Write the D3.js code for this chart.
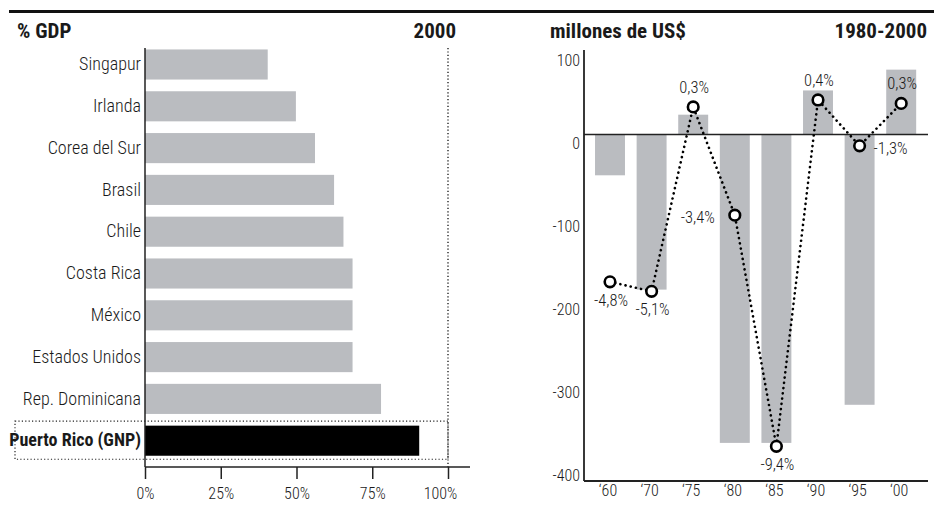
<!DOCTYPE html>
<html>
<head>
<meta charset="utf-8">
<script src="https://cdn.jsdelivr.net/npm/d3@7"></script>
<style>
  body { margin: 0; background: #fff; }
  svg text { font-family: "Roboto Condensed", "Liberation Sans Narrow", sans-serif; fill: #1a1a1a; }
</style>
</head>
<body>
<script>
// panel izquierdo: % del PIB, 2000
var countries = ["Singapur","Irlanda","Corea del Sur","Brasil","Chile","Costa Rica","México","Estados Unidos","Rep. Dominicana","Puerto Rico (GNP)"]
var gdpShare = [40.5, 49.8, 56.1, 62.4, 65.5, 68.5, 68.5, 68.5, 77.9, 90.5]
var pctTicks = [0, 25, 50, 75, 100]

// panel derecho: millones de US$, 1960-2000
var periods = ["\u201860","\u201870","\u201875","\u201880","\u201885","\u201890","\u201895","\u201800"]
var flows = [-47, -179, 23, -356, -356, 51, -312, 75]
var ratePoints = [-170, -181, 32, -93, -360, 40, -13, 36]
var rateLabels = ["-4,8%","-5,1%","0,3%","-3,4%","-9,4%","0,4%","-1,3%","0,3%"]
var flowTicks = [100, 0, -100, -200, -300, -400]

var labelSide = ["below","below","above","left","below","above","right","above"]

var W = 934, H = 520
var barGrey = "#babcc0"

var svg = d3.select("body").append("svg")
    .attr("width", W)
    .attr("height", H)

// regla superior
svg.append("rect")
    .attr("x", 9).attr("y", 10)
    .attr("width", W - 9).attr("height", 3)
    .attr("fill", "#111")

// ---------- panel izquierdo ----------
var x1 = d3.scaleLinear().domain([0, 100]).range([145, 448])
var y1 = d3.scaleBand().domain(countries).range([43.6, 461.6]).paddingInner(0.28).paddingOuter(0.14)
var axisY1 = 467

svg.append("text")
    .attr("x", 17).attr("y", 38)
    .attr("font-size", 21).attr("font-weight", "bold")
    .text("% GDP")
svg.append("text")
    .attr("x", 456).attr("y", 38)
    .attr("text-anchor", "end")
    .attr("font-size", 21).attr("font-weight", "bold")
    .text("2000")

// caja punteada Puerto Rico
var pr = countries[countries.length - 1]
svg.append("rect")
    .attr("x", 15)
    .attr("y", y1(pr) - 4.5)
    .attr("width", x1(100) - 15)
    .attr("height", y1.bandwidth() + 8)
    .attr("fill", "none")
    .attr("stroke", "#222")
    .attr("stroke-width", 1.2)
    .attr("stroke-dasharray", "1.2,2.2")

svg.selectAll(".bar1")
    .data(gdpShare)
    .enter().append("rect")
    .attr("class", "bar1")
    .attr("x", x1(0))
    .attr("y", function(d, i) { return y1(countries[i]) })
    .attr("width", function(d) { return x1(d) - x1(0) })
    .attr("height", y1.bandwidth())
    .attr("fill", function(d, i) { return i == countries.length - 1 ? "#000" : barGrey })

// linea 100%
svg.append("line")
    .attr("x1", x1(100)).attr("x2", x1(100))
    .attr("y1", 48).attr("y2", axisY1)
    .attr("stroke", "#222")
    .attr("stroke-width", 1.4)
    .attr("stroke-dasharray", "1.2,2.2")

// eje Y
var gy1 = svg.append("g")
    .attr("transform", "translate(" + x1(0) + ",0)")
    .call(d3.axisLeft(y1).tickSize(0).tickPadding(4))
gy1.select(".domain").remove()
gy1.selectAll("text")
    .attr("font-size", 18)
    .attr("font-weight", function(d) { return d == pr ? "bold" : 300 })
svg.append("line")
    .attr("x1", x1(0)).attr("x2", x1(0))
    .attr("y1", 48).attr("y2", axisY1)
    .attr("stroke", "#222").attr("stroke-width", 1.5)

// eje X
var gx1 = svg.append("g")
    .attr("transform", "translate(0," + axisY1 + ")")
    .call(d3.axisBottom(x1).tickValues(pctTicks).tickSize(12).tickPadding(9).tickFormat(function(d) { return d + "%" }))
gx1.select(".domain").remove()
gx1.selectAll("line").attr("stroke", "#222").attr("stroke-width", 1.5)
gx1.selectAll("text").attr("font-size", 16).attr("fill", "#333").attr("font-weight", 300)
    .attr("dx", function(d) { return d == 100 ? -8 : 0 })
svg.append("line")
    .attr("x1", x1(0)).attr("x2", 470)
    .attr("y1", axisY1).attr("y2", axisY1)
    .attr("stroke", "#222").attr("stroke-width", 1.5)

// ---------- panel derecho ----------
var x2 = d3.scaleBand().domain(periods).range([589.2, 922]).paddingInner(0.28).paddingOuter(0.14)
var y2 = d3.scaleLinear().domain([-400, 100]).range([481, 48])
// las etiquetas del eje en el original van algo mas juntas que las marcas
var y2lab = d3.scaleLinear().domain([-400, 100]).range([475, 60])
var axisX2 = 584

svg.append("text")
    .attr("x", 550).attr("y", 38)
    .attr("font-size", 21).attr("font-weight", "bold")
    .text("millones de US$")
svg.append("text")
    .attr("x", 927).attr("y", 38)
    .attr("text-anchor", "end")
    .attr("font-size", 21).attr("font-weight", "bold")
    .text("1980-2000")

svg.selectAll(".bar2")
    .data(flows)
    .enter().append("rect")
    .attr("class", "bar2")
    .attr("x", function(d, i) { return x2(periods[i]) })
    .attr("y", function(d) { return y2(Math.max(0, d)) })
    .attr("width", x2.bandwidth())
    .attr("height", function(d) { return Math.abs(y2(d) - y2(0)) })
    .attr("fill", barGrey)

// linea cero
svg.append("line")
    .attr("x1", axisX2).attr("x2", 928)
    .attr("y1", y2(0)).attr("y2", y2(0))
    .attr("stroke", "#222").attr("stroke-width", 1.5)

// ejes
var gy2 = svg.append("g")
    .attr("transform", "translate(" + axisX2 + ",0)")
    .call(d3.axisLeft(y2lab).tickValues(flowTicks).tickSize(0).tickPadding(4).tickFormat(function(d) { return String(d) }))
gy2.select(".domain").remove()
gy2.selectAll("text").attr("font-size", 16).attr("fill", "#333").attr("font-weight", 300)
svg.append("line")
    .attr("x1", axisX2).attr("x2", axisX2)
    .attr("y1", 50).attr("y2", y2(-400))
    .attr("stroke", "#222").attr("stroke-width", 1.8)

var gx2 = svg.append("g")
    .attr("transform", "translate(0," + y2(-400) + ")")
    .call(d3.axisBottom(x2).tickSize(0).tickPadding(4))
gx2.select(".domain").remove()
gx2.selectAll("text").attr("font-size", 16).attr("fill", "#333").attr("font-weight", 300).attr("dx", -2)
svg.append("line")
    .attr("x1", axisX2).attr("x2", 928)
    .attr("y1", y2(-400)).attr("y2", y2(-400))
    .attr("stroke", "#222").attr("stroke-width", 1.8)

// linea punteada de % PIB
var cx = function(i) { return x2(periods[i]) + x2.bandwidth() / 2 }
var line = d3.line()
    .x(function(d, i) { return cx(i) })
    .y(function(d) { return y2(d) })

svg.append("path")
    .attr("d", line(ratePoints))
    .attr("fill", "none")
    .attr("stroke", "#000")
    .attr("stroke-width", 2.6)
    .attr("stroke-linecap", "round")
    .attr("stroke-dasharray", "0.1,5.2")

svg.selectAll(".dot")
    .data(ratePoints)
    .enter().append("circle")
    .attr("class", "dot")
    .attr("cx", function(d, i) { return cx(i) })
    .attr("cy", function(d) { return y2(d) })
    .attr("r", 5.3)
    .attr("fill", "#fff")
    .attr("stroke", "#000")
    .attr("stroke-width", 2.6)

svg.selectAll(".rlab")
    .data(rateLabels)
    .enter().append("text")
    .attr("class", "rlab")
    .attr("font-size", 16.5)
    .attr("font-weight", 300)
    .attr("fill", "#333")
    .attr("x", function(d, i) {
        if (labelSide[i] == "left") return cx(i) - 20
        if (labelSide[i] == "right") return cx(i) + 14
        return cx(i) + 1
    })
    .attr("y", function(d, i) {
        var y = y2(ratePoints[i])
        if (labelSide[i] == "above") return y - 14
        if (labelSide[i] == "below") return y + 24
        return y + 8
    })
    .attr("text-anchor", function(d, i) {
        if (labelSide[i] == "left") return "end"
        if (labelSide[i] == "right") return "start"
        return "middle"
    })
    .text(function(d) { return d })
</script>
</body>
</html>
